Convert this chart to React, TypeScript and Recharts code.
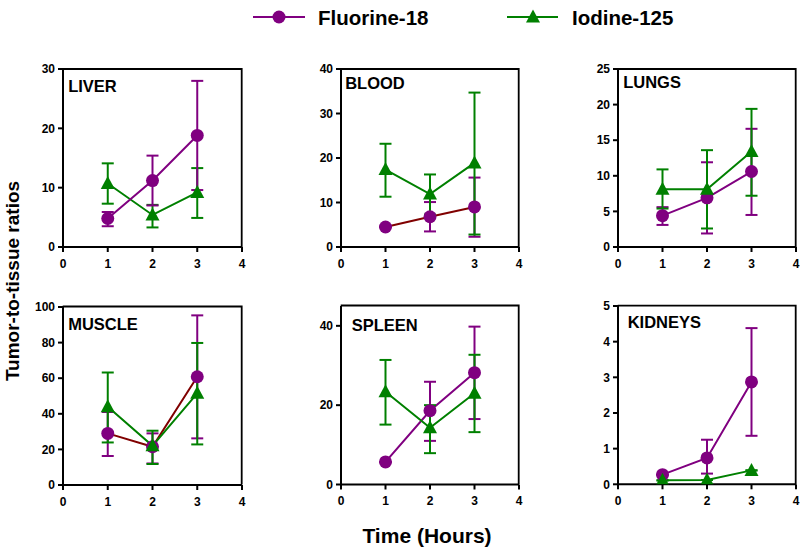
import React from 'react';
import { LineChart, Line, XAxis, YAxis, ErrorBar } from 'recharts';

const PURPLE = '#800080';
const GREEN = '#008000';
const DARKRED = '#800000';
const FONT = '"Liberation Sans", Arial, Helvetica, sans-serif';

const hours = [1, 2, 3];
const xTicks = [0, 1, 2, 3, 4];

// LIVER
const liverF18 = [4.8, 11.2, 18.8];
const liverF18Lo = [3.5, 7.0, 9.6];
const liverF18Hi = [5.9, 15.4, 28.0];
const liverI125 = [10.7, 5.4, 9.2];
const liverI125Lo = [7.3, 3.3, 4.9];
const liverI125Hi = [14.1, 7.1, 13.3];

// BLOOD
const bloodF18 = [4.5, 6.8, 9.0];
const bloodF18Lo = [4.5, 3.5, 2.3];
const bloodF18Hi = [4.5, 10.1, 15.6];
const bloodI125 = [17.4, 11.9, 18.9];
const bloodI125Lo = [11.3, 7.3, 2.8];
const bloodI125Hi = [23.2, 16.3, 34.7];

// LUNGS
const lungsF18 = [4.4, 6.9, 10.6];
const lungsF18Lo = [3.1, 1.9, 4.5];
const lungsF18Hi = [5.6, 11.9, 16.6];
const lungsI125 = [8.1, 8.1, 13.4];
const lungsI125Lo = [5.4, 2.6, 7.2];
const lungsI125Hi = [10.9, 13.6, 19.4];

// MUSCLE
const muscleF18 = [29, 21.5, 60.8];
const muscleF18Lo = [16.3, 12.1, 26.2];
const muscleF18Hi = [41, 29, 95.3];
const muscleI125 = [44, 22, 51.5];
const muscleI125Lo = [23.9, 11.8, 22.8];
const muscleI125Hi = [63.2, 30.5, 79.8];

// SPLEEN
const spleenF18 = [5.7, 18.6, 28.2];
const spleenF18Lo = [5.7, 11.0, 16.5];
const spleenF18Hi = [5.7, 25.9, 39.8];
const spleenI125 = [23.4, 14.3, 23.0];
const spleenI125Lo = [15.1, 7.9, 13.2];
const spleenI125Hi = [31.4, 20.0, 32.7];

// KIDNEYS
const kidneysF18 = [0.27, 0.74, 2.87];
const kidneysF18Lo = [0.27, 0.3, 1.36];
const kidneysF18Hi = [0.27, 1.25, 4.38];
const kidneysI125 = [0.11, 0.12, 0.39];
const kidneysI125Lo = [0.11, 0.12, 0.39];
const kidneysI125Hi = [0.11, 0.12, 0.39];

type Panel = {
  name: string;
  yMax: number;
  yTicks: number[];
  f: number[]; fLo: number[]; fHi: number[];
  i: number[]; iLo: number[]; iHi: number[];
  fLine: string;
  greenOnTop: boolean;
  left: number; top: number; w: number; h: number;
  tdx: number; tdy: number;
};

const panels: Panel[] = [
  { name: 'LIVER', yMax: 30, yTicks: [0, 10, 20, 30], f: liverF18, fLo: liverF18Lo, fHi: liverF18Hi, i: liverI125, iLo: liverI125Lo, iHi: liverI125Hi, fLine: PURPLE, greenOnTop: false, left: 62.7, top: 69, w: 179, h: 178, tdx: 5.5, tdy: 23 },
  { name: 'BLOOD', yMax: 40, yTicks: [0, 10, 20, 30, 40], f: bloodF18, fLo: bloodF18Lo, fHi: bloodF18Hi, i: bloodI125, iLo: bloodI125Lo, iHi: bloodI125Hi, fLine: DARKRED, greenOnTop: true, left: 340.7, top: 69, w: 178, h: 178, tdx: 4.5, tdy: 20 },
  { name: 'LUNGS', yMax: 25, yTicks: [0, 5, 10, 15, 20, 25], f: lungsF18, fLo: lungsF18Lo, fHi: lungsF18Hi, i: lungsI125, iLo: lungsI125Lo, iHi: lungsI125Hi, fLine: PURPLE, greenOnTop: true, left: 617.7, top: 69, w: 178, h: 178, tdx: 5.5, tdy: 19 },
  { name: 'MUSCLE', yMax: 100, yTicks: [0, 20, 40, 60, 80, 100], f: muscleF18, fLo: muscleF18Lo, fHi: muscleF18Hi, i: muscleI125, iLo: muscleI125Lo, iHi: muscleI125Hi, fLine: DARKRED, greenOnTop: true, left: 62.7, top: 306.5, w: 179, h: 178, tdx: 5.5, tdy: 23.5 },
  { name: 'SPLEEN', yMax: 45, yTicks: [0, 20, 40], f: spleenF18, fLo: spleenF18Lo, fHi: spleenF18Hi, i: spleenI125, iLo: spleenI125Lo, iHi: spleenI125Hi, fLine: PURPLE, greenOnTop: true, left: 340.7, top: 305.5, w: 178, h: 178.5, tdx: 11, tdy: 25.5 },
  { name: 'KIDNEYS', yMax: 5, yTicks: [0, 1, 2, 3, 4, 5], f: kidneysF18, fLo: kidneysF18Lo, fHi: kidneysF18Hi, i: kidneysI125, iLo: kidneysI125Lo, iHi: kidneysI125Hi, fLine: PURPLE, greenOnTop: true, left: 617.7, top: 305.7, w: 178, h: 178.3, tdx: 10, tdy: 22 },
];

const YAXIS_W = 40;
const M_TOP = 8;
const M_RIGHT = 6;
const XAXIS_H = 30;

function TriangleDot(props: any) {
  const { cx, cy, index } = props;
  if (cx == null || cy == null) return null;
  return (
    <polygon
      key={`tri-${index}`}
      points={`${cx},${cy - 7.5} ${cx - 7},${cy + 5.5} ${cx + 7},${cy + 5.5}`}
      fill={GREEN}
    />
  );
}

const tickStyle = { fill: '#000', fontSize: 12, fontWeight: 700, fontFamily: FONT };

function PanelChart({ p }: { p: Panel }) {
  const data = hours.map((x, k) => ({
    x,
    f: p.f[k],
    fErr: [p.f[k] - p.fLo[k], p.fHi[k] - p.f[k]],
    i: p.i[k],
    iErr: [p.i[k] - p.iLo[k], p.iHi[k] - p.i[k]],
  }));
  const width = YAXIS_W + p.w + M_RIGHT;
  const height = M_TOP + p.h + XAXIS_H;

  const fLine = (
    <Line
      key="f"
      dataKey="f"
      stroke={p.fLine}
      strokeWidth={2}
      dot={{ r: 6.5, fill: PURPLE, stroke: PURPLE, strokeWidth: 0 }}
      activeDot={false}
      isAnimationActive={false}
    >
      <ErrorBar dataKey="fErr" direction="y" width={6} stroke={PURPLE} strokeWidth={2} />
    </Line>
  );
  const iLine = (
    <Line
      key="i"
      dataKey="i"
      stroke={GREEN}
      strokeWidth={2}
      dot={(props: any) => <TriangleDot {...props} />}
      activeDot={false}
      isAnimationActive={false}
    >
      <ErrorBar dataKey="iErr" direction="y" width={6} stroke={GREEN} strokeWidth={2} />
    </Line>
  );

  return (
    <div style={{ position: 'absolute', left: p.left - YAXIS_W, top: p.top - M_TOP }}>
      <LineChart width={width} height={height} data={data} margin={{ top: M_TOP, right: M_RIGHT, left: 0, bottom: 0 }}>
        <XAxis
          dataKey="x"
          type="number"
          domain={[0, 4]}
          ticks={xTicks}
          height={XAXIS_H}
          axisLine={{ stroke: '#000', strokeWidth: 2 }}
          tickLine={{ stroke: '#000', strokeWidth: 2 }}
          tickSize={5}
          tickMargin={7}
          tick={tickStyle}
          interval={0}
        />
        <YAxis
          type="number"
          domain={[0, p.yMax]}
          ticks={p.yTicks}
          width={YAXIS_W}
          axisLine={{ stroke: '#000', strokeWidth: 2 }}
          tickLine={{ stroke: '#000', strokeWidth: 2 }}
          tickSize={5}
          tickMargin={3}
          tick={tickStyle}
          interval={0}
          allowDataOverflow
        />
        {p.greenOnTop ? [fLine, iLine] : [iLine, fLine]}
      </LineChart>
    </div>
  );
}

export default function App() {
  return (
    <div style={{ position: 'absolute', left: 0, top: 0, width: 800, height: 549, background: '#fff', overflow: 'hidden', fontFamily: FONT }}>
      {panels.map((p) => (
        <PanelChart key={p.name} p={p} />
      ))}
      <svg width={800} height={549} style={{ position: 'absolute', left: 0, top: 0, pointerEvents: 'none' }}>
        {/* panel frames (top and right edges) */}
        {panels.map((p) => (
          <polyline
            key={`frame-${p.name}`}
            points={`${p.left},${p.top} ${p.left + p.w},${p.top} ${p.left + p.w},${p.top + p.h}`}
            fill="none"
            stroke="#000"
            strokeWidth={1.8}
          />
        ))}
        {/* legend */}
        <line x1={253} y1={17} x2={305} y2={17} stroke={PURPLE} strokeWidth={2} />
        <circle cx={279} cy={17} r={6.5} fill={PURPLE} />
        <text x={318} y={24.5} fontSize={20.5} fontWeight={700} fontFamily={FONT} fill="#000">Fluorine-18</text>
        <line x1={507} y1={17} x2={558} y2={17} stroke={GREEN} strokeWidth={2} />
        <polygon points={`533,9.5 526,22.5 540,22.5`} fill={GREEN} />
        <text x={572} y={24.5} fontSize={20.5} fontWeight={700} fontFamily={FONT} fill="#000">Iodine-125</text>
        {/* panel titles */}
        {panels.map((p) => (
          <text key={p.name} x={p.left + p.tdx} y={p.top + p.tdy} fontSize={16.5} fontWeight={700} fontFamily={FONT} fill="#000">
            {p.name}
          </text>
        ))}
        {/* axis titles */}
        <text x={427} y={543} textAnchor="middle" fontSize={21} fontWeight={700} fontFamily={FONT} fill="#000">Time (Hours)</text>
        <text x={18.5} y={281} textAnchor="middle" fontSize={19} fontWeight={700} fontFamily={FONT} fill="#000" transform="rotate(-90 18.5 281)">Tumor-to-tissue ratios</text>
      </svg>
    </div>
  );
}
